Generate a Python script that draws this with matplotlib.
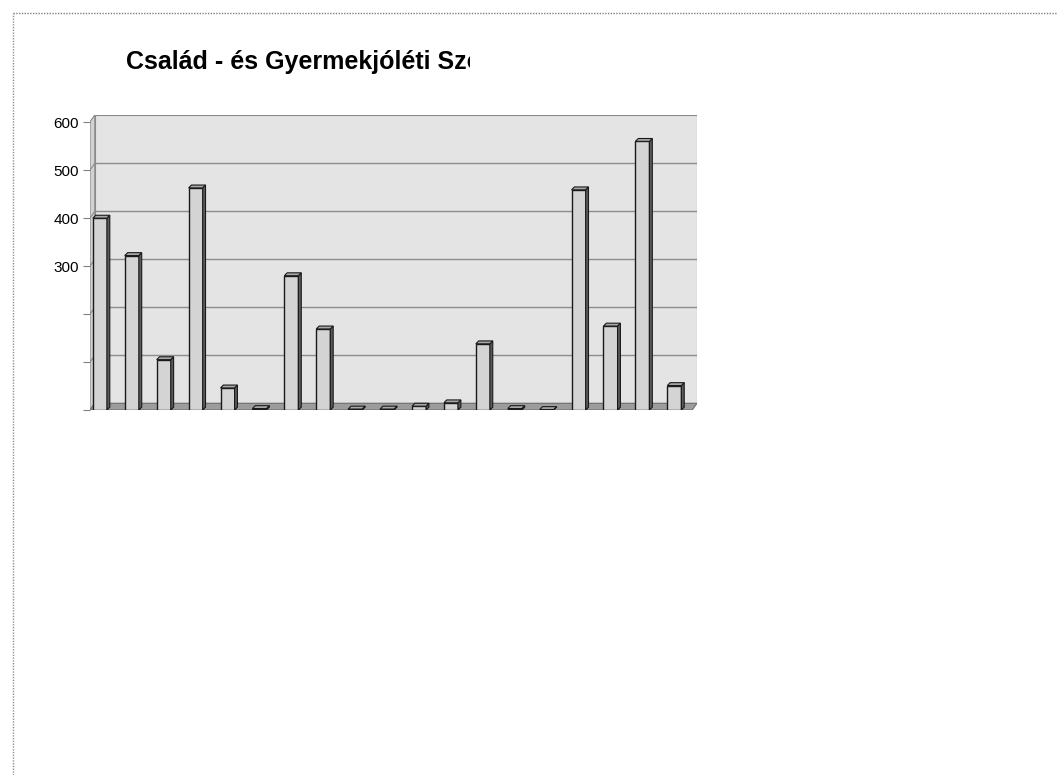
import numpy as np
import matplotlib
matplotlib.use("Agg")
import matplotlib.pyplot as plt
from matplotlib.patches import Polygon, Rectangle

# data
title = "Család - és Gyermekjóléti Szolgálat"
values = [400, 322, 105, 463, 46, 3, 280, 169, 2, 2, 8, 15, 138, 3, 1, 459, 175, 560, 51]
yticks = [0, 100, 200, 300, 400, 500, 600]
ytick_labels = ["", "", "", "300", "400", "500", "600"]

W, H = 1057, 775
fig = plt.figure(figsize=(W / 100, H / 100), dpi=100)
fig.patch.set_facecolor("white")

# page border (dotted, top and left)
fig.add_artist(plt.Line2D([13 / W, 1], [1 - 13 / H, 1 - 13 / H], color="#808080", lw=1, ls=(0, (1, 1))))
fig.add_artist(plt.Line2D([13 / W, 13 / W], [0, 1 - 13 / H], color="#909090", lw=1, ls=(0, (1, 1))))

# title, cut off like in the scan
t = fig.text(126 / W, 1 - 62 / H, title, fontsize=18, fontweight="bold",
             family="Liberation Sans", va="center", ha="left")
clip = Rectangle((0, 0), 470 / W, 1, transform=fig.transFigure, visible=False)
fig.add_artist(clip)
t.set_clip_path(clip)

ax = fig.add_axes([90 / W, 1 - 410 / H, 607 / W, 295 / H])
xl, xr = -0.31, 18.71
ytop = 615
dx, dy = 0.15, 14
ax.set_xlim(xl, xr)
ax.set_ylim(0, ytop)
ax.set_facecolor("none")
for s in ax.spines.values():
    s.set_visible(False)

# back wall
ax.add_patch(Rectangle((xl + dx, dy), xr - xl - dx, ytop - dy, facecolor="#e4e4e4",
                       edgecolor="#8a8a8a", lw=0.8, zorder=0))
# left wall
ax.add_patch(Polygon([(xl, 0), (xl + dx, dy), (xl + dx, ytop), (xl, ytop - dy)],
                     closed=True, facecolor="#d2d2d2", edgecolor="#8a8a8a", lw=0.8, zorder=0))
# floor
ax.add_patch(Polygon([(xl, 0), (xr - dx, 0), (xr, dy), (xl + dx, dy)],
                     closed=True, facecolor="#9c9c9c", edgecolor="#707070", lw=0.8, zorder=0))
# gridlines on the back wall
for v in yticks[1:-1]:
    ax.plot([xl + dx, xr], [v + dy, v + dy], color="#8c8c8c", lw=1, zorder=1)
    ax.plot([xl, xl + dx], [v, v + dy], color="#8c8c8c", lw=0.8, zorder=1)

# bars with a small 3d side and top
bw = 0.44
bdx, bdy = 0.09, 6
x = np.arange(len(values))
ax.bar(x, values, width=bw, color="#d4d4d4", edgecolor="#1a1a1a", lw=1, zorder=3)
for xi, v in zip(x, values):
    r = xi + bw / 2
    l = xi - bw / 2
    ax.add_patch(Polygon([(r, 0), (r + bdx, bdy), (r + bdx, v + bdy), (r, v)], closed=True,
                         facecolor="#5a5a5a", edgecolor="#1a1a1a", lw=0.8, zorder=3))
    ax.add_patch(Polygon([(l, v), (r, v), (r + bdx, v + bdy), (l + bdx, v + bdy)], closed=True,
                         facecolor="#a8a8a8", edgecolor="#1a1a1a", lw=0.8, zorder=3))

ax.set_xticks([])
ax.set_yticks(yticks)
ax.set_yticklabels(ytick_labels, fontsize=11, family="Liberation Sans")
ax.tick_params(axis="y", length=5, color="#808080", pad=3)

fig.savefig("out.png", dpi=100)
